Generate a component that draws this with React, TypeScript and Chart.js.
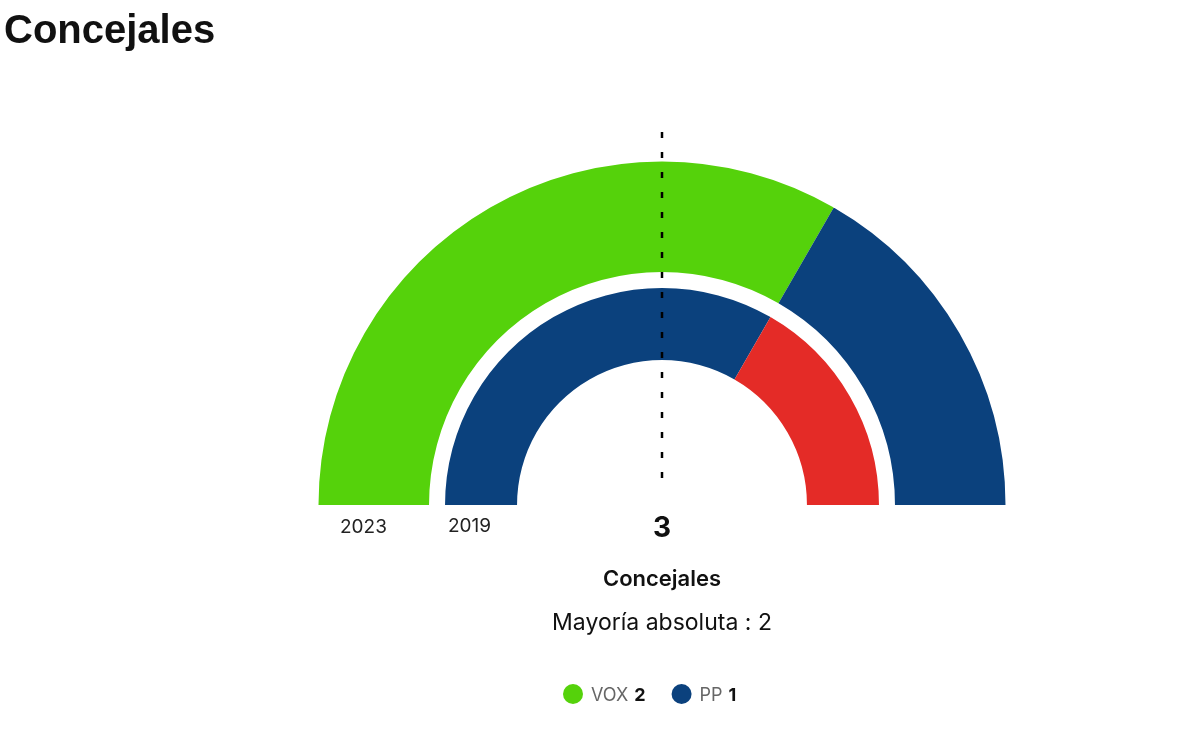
import React, { useEffect, useRef } from "react";
import Chart from "chart.js/auto";

const title = "Concejales";
const parties = ["VOX", "PP", "PSOE"];
const partyColors = ["#55d20b", "#0b417d", "#e42b27"];
const seats2023 = [2, 1];
const colors2023 = [partyColors[0], partyColors[1]];
const seats2019 = [2, 1];
const colors2019 = [partyColors[1], partyColors[2]];
const ringLabels = ["2023", "2019"];
const totalSeats = 3;
const majority = 2;
const legendNames = ["VOX", "PP"];
const legendSeats = [2, 1];
const legendColors = [partyColors[0], partyColors[1]];

const FONT = "Inter, 'Noto Sans', sans-serif";

export default function App() {
  const ref = useRef<HTMLCanvasElement | null>(null);

  useEffect(() => {
    const canvas = ref.current;
    if (!canvas) return;

    const overlay = {
      id: "overlay",
      afterDraw(chart: any) {
        const ctx = chart.ctx as CanvasRenderingContext2D;
        const arc = chart.getDatasetMeta(0).data[0] as any;
        const cx = arc.x;
        const cy = arc.y;
        ctx.save();
        // title
        ctx.fillStyle = "#111";
        ctx.font = "bold 40px 'Liberation Sans', Arial, sans-serif";
        ctx.textAlign = "left";
        ctx.textBaseline = "alphabetic";
        ctx.fillText(title, 4, 43);

        // dashed center line
        ctx.strokeStyle = "#000";
        ctx.lineWidth = 2.5;
        ctx.setLineDash([6, 14]);
        ctx.beginPath();
        ctx.moveTo(cx, cy - 373);
        ctx.lineTo(cx, cy - 25);
        ctx.stroke();
        ctx.setLineDash([]);

        // ring labels
        ctx.fillStyle = "#222";
        ctx.font = `19px ${FONT}`;
        ctx.textAlign = "left";
        ctx.fillText(ringLabels[0], cx - 322, cy + 28);
        ctx.fillText(ringLabels[1], cx - 214, cy + 27);

        // center texts
        ctx.textAlign = "center";
        ctx.fillStyle = "#111";
        ctx.font = `bold 28px ${FONT}`;
        ctx.fillText(String(totalSeats), cx, cy + 32);
        ctx.font = `600 22px ${FONT}`;
        ctx.fillText(title, cx, cy + 81);
        ctx.font = `23px ${FONT}`;
        ctx.fillText(`Mayoría absoluta : ${majority}`, cx, cy + 125);

        // legend
        const ly = cy + 189;
        let x = cx - 99;
        ctx.textAlign = "left";
        legendNames.forEach((name, i) => {
          ctx.fillStyle = legendColors[i];
          ctx.beginPath();
          ctx.arc(x + 10, ly, 10, 0, Math.PI * 2);
          ctx.fill();
          x += 28;
          ctx.font = `18px ${FONT}`;
          ctx.fillStyle = "#666";
          ctx.fillText(name, x, ly + 7);
          x += ctx.measureText(name).width + 6;
          ctx.font = `bold 18px ${FONT}`;
          ctx.fillStyle = "#111";
          ctx.fillText(String(legendSeats[i]), x, ly + 7);
          x += ctx.measureText(String(legendSeats[i])).width + 26;
        });
        ctx.restore();
      },
    };

    const chart = new Chart(canvas, {
      type: "doughnut",
      data: {
        labels: parties,
        datasets: [
          { data: seats2023, backgroundColor: colors2023, borderWidth: 0, weight: 110.5 } as any,
          { data: [1], backgroundColor: ["rgba(0,0,0,0)"], borderWidth: 0, weight: 16 } as any,
          { data: seats2019, backgroundColor: colors2019, borderWidth: 0, weight: 72 } as any,
        ],
      },
      options: {
        responsive: false,
        animation: false,
        rotation: -90,
        circumference: 180,
        radius: 343.5,
        cutout: "42.2%",
        layout: { padding: { left: 124, right: 0, top: 0, bottom: 77.5 } },
        plugins: {
          legend: { display: false },
          tooltip: { enabled: false },
          title: { display: false },
        },
        events: [],
      } as any,
      plugins: [overlay],
    });
    return () => chart.destroy();
  }, []);

  return (
    <div style={{ position: "fixed", left: 0, top: 0, width: 1200, height: 744, background: "#fff" }}>
      <canvas ref={ref} width={1200} height={744} style={{ display: "block" }} />
    </div>
  );
}
